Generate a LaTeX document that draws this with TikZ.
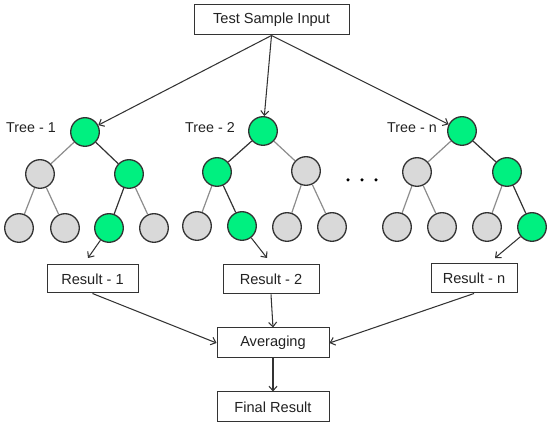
\documentclass[tikz,border=0pt]{standalone}
\usepackage{fontspec}
\setmainfont{Liberation Sans}
\usetikzlibrary{arrows.meta}
\definecolor{leafgreen}{HTML}{00F080}
\definecolor{nodegray}{HTML}{D9D9D9}
\definecolor{edgedark}{HTML}{333333}
\definecolor{edgelight}{HTML}{8C8C8C}
\definecolor{txt}{HTML}{222222}
\begin{document}
\begin{tikzpicture}[x=1pt,y=-1pt,
 tnode/.style={circle,draw=edgedark,line width=1.3pt,minimum size=28.6pt,inner sep=0pt},
 gn/.style={tnode,fill=leafgreen},
 gy/.style={tnode,fill=nodegray},
 box/.style={draw=edgedark,line width=1pt,fill=white,inner sep=0pt,text=txt,font=\fontsize{14.6}{17}\selectfont},
 lbl/.style={font=\fontsize{14.3}{17}\selectfont,inner sep=0pt,text=txt},
 pe/.style={edgedark,line width=1.2pt},
 ge/.style={edgelight,line width=1.2pt},
 arr/.style={-{Straight Barb[length=4.5pt,width=8pt]},line width=1.05pt,edgedark},
 dotn/.style={circle,fill=black,inner sep=0pt,minimum size=3.5pt}]
\useasboundingbox (0,0) rectangle (550,427);

% boxes
\node[box,minimum width=155pt,minimum height=30pt] (tsi) at (271.5,20) {Test Sample Input};
\node[box,minimum width=91pt,minimum height=28pt] (res1) at (92.5,279) {Result - 1};
\node[box,minimum width=96pt,minimum height=29pt] (res2) at (271,279.5) {Result - 2};
\node[box,minimum width=86pt,minimum height=29pt] (resn) at (474,278.5) {Result - n};
\node[box,minimum width=112pt,minimum height=30pt] (avg) at (273,343) {Averaging};
\node[box,minimum width=112pt,minimum height=30pt] (fin) at (273,407) {Final Result};

% labels
\node[lbl] (lab1) at (31,128) {Tree - 1};
\node[lbl] (lab2) at (210,128) {Tree - 2};
\node[lbl] (labn) at (412,128) {Tree - n};

% dots
\node[dotn] (d1) at (348,180) {};
\node[dotn] (d2) at (362,180) {};
\node[dotn] (d3) at (376,180) {};

% tree 1
\node[gn] (t1r) at (85,132) {};
\node[gy] (t1a) at (40,174) {};
\node[gn] (t1b) at (129,174) {};
\node[gy] (t1aa) at (19,228) {};
\node[gy] (t1ab) at (65,228) {};
\node[gn] (t1ba) at (109,228) {};
\node[gy] (t1bb) at (154,228) {};
\draw[ge] (t1r) -- (t1a);
\draw[pe] (t1r) -- (t1b);
\draw[ge] (t1a) -- (t1aa);
\draw[ge] (t1a) -- (t1ab);
\draw[pe] (t1b) -- (t1ba);
\draw[ge] (t1b) -- (t1bb);

% tree 2
\node[gn] (t2r) at (263,131) {};
\node[gn] (t2a) at (217,172) {};
\node[gy] (t2b) at (306,171) {};
\node[gy] (t2aa) at (197,226) {};
\node[gn] (t2ab) at (242,226) {};
\node[gy] (t2ba) at (287,227) {};
\node[gy] (t2bb) at (332,227) {};
\draw[pe] (t2r) -- (t2a);
\draw[ge] (t2r) -- (t2b);
\draw[ge] (t2a) -- (t2aa);
\draw[pe] (t2a) -- (t2ab);
\draw[ge] (t2b) -- (t2ba);
\draw[ge] (t2b) -- (t2bb);

% tree n
\node[gn] (tnr) at (462,131) {};
\node[gy] (tna) at (417,172) {};
\node[gn] (tnb) at (507,172) {};
\node[gy] (tnaa) at (397,227) {};
\node[gy] (tnab) at (442,227) {};
\node[gy] (tnba) at (487,227) {};
\node[gn] (tnbb) at (532,227) {};
\draw[ge] (tnr) -- (tna);
\draw[pe] (tnr) -- (tnb);
\draw[ge] (tna) -- (tnaa);
\draw[ge] (tna) -- (tnab);
\draw[ge] (tnb) -- (tnba);
\draw[pe] (tnb) -- (tnbb);

% arrows from input
\draw[arr] (tsi.south) -- (t1r);
\draw[arr] (tsi.south) -- (t2r);
\draw[arr] (tsi.south) -- (tnr);

% arrows leaf -> result
\coordinate (r1in) at (88,258);
\coordinate (r2in) at (267,258);
\coordinate (rnin) at (495,258);
\draw[arr] (t1ba) -- (r1in);
\draw[arr] (t2ab) -- (r2in);
\draw[arr] (tnbb) -- (rnin);

% results -> averaging -> final
\draw[arr] (res1.south) -- (avg.west);
\draw[arr] (res2.south) -- (avg.north);
\draw[arr] (resn.south) -- (avg.east);
\draw[arr] (avg.south) -- (fin.north);
\end{tikzpicture}
\end{document}
